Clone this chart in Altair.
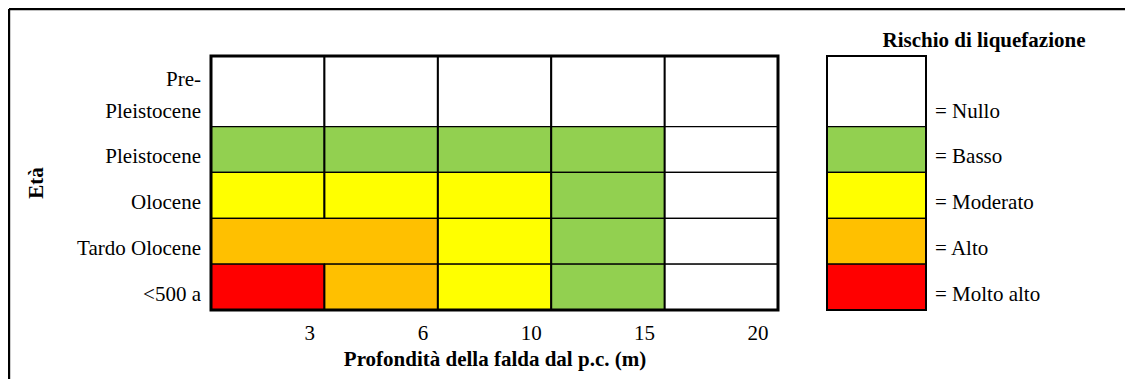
import json
import altair as alt
import pandas as pd

# ---------------- data ----------------
ages = ["Pre-\nPleistocene", "Pleistocene", "Olocene", "Tardo Olocene", "<500 a"]
depths = ["3", "6", "10", "15", "20"]
levels = ["Nullo", "Basso", "Moderato", "Alto", "Molto alto"]
level_colors = ["#FFFFFF", "#92D050", "#FFFF00", "#FFC000", "#FF0000"]
# risk per age row, as (level, number of depth columns covered)
risk_rows = [
    [("Nullo", 1), ("Nullo", 1), ("Nullo", 1), ("Nullo", 1), ("Nullo", 1)],
    [("Basso", 1), ("Basso", 1), ("Basso", 1), ("Basso", 1), ("Nullo", 1)],
    [("Moderato", 1), ("Moderato", 1), ("Moderato", 1), ("Basso", 1), ("Nullo", 1)],
    [("Alto", 2), ("Moderato", 1), ("Basso", 1), ("Nullo", 1)],
    [("Molto alto", 1), ("Alto", 1), ("Moderato", 1), ("Basso", 1), ("Nullo", 1)],
]
x_title = "Profondità della falda dal p.c. (m)"
y_title = "Età"
legend_title = "Rischio di liquefazione"

# ---------------- layout ----------------
FONT = "Liberation Serif"
FS = 21
W, H = 567, 254
PAD = {"left": 203, "top": 48, "right": 347, "bottom": 69}
LEG_GAP, LEG_W = 49, 99
EXTRA_LINE = 0.54   # extra row height (in row units) per wrapped label line
LINE_H = 32         # px between wrapped label lines

n_lines = [len(a.split("\n")) for a in ages]
heights = [1 + EXTRA_LINE * (n - 1) for n in n_lines]
total = sum(heights)
y_lo = [sum(heights[r + 1:]) for r in range(len(ages))]
y_hi = [lo + h for lo, h in zip(y_lo, heights)]

cell_recs = []
for r, row in enumerate(risk_rows):
    c = 0
    for lev, span in row:
        cell_recs.append({"x0": c, "x1": c + span, "y0": y_lo[r], "y1": y_hi[r], "level": lev})
        c += span
cells_df = pd.DataFrame(cell_recs)

label_df = pd.DataFrame([
    {"text": line, "ybot": y_lo[r], "k": k}
    for r, a in enumerate(ages)
    for k, line in enumerate(reversed(a.split("\n")))
])

legend_df = pd.DataFrame({
    "level": levels,
    "label": ["= " + l for l in levels],
    "y0": y_lo[:len(levels)],
    "y1": y_hi[:len(levels)],
})
one = pd.DataFrame({"k": [0]})

xs = alt.Scale(domain=[0, len(depths)], nice=False, zero=False)
ys = alt.Scale(domain=[0, total], nice=False, zero=False)
ls = alt.Scale(domain=[0, 1], range=[W + LEG_GAP, W + LEG_GAP + LEG_W], nice=False, zero=False)
cs = alt.Scale(domain=levels, range=level_colors)

x_axis = alt.Axis(
    values=list(range(1, len(depths) + 1)),
    labelExpr=f"{json.dumps(depths)}[datum.value - 1]",
    labelAlign="right", labelOffset=-10, labelPadding=12, labelBaseline="top",
    labelFont=FONT, labelFontSize=FS, labelColor="black", labelFlush=False,
    labelOverlap=False, ticks=False, tickSize=0, domain=False, grid=False,
    title=x_title, titleFont=FONT, titleFontSize=FS, titleFontWeight="bold",
    titleColor="black", titleBaseline="alphabetic", titleY=55, titleX=W / 2,
)

cells = alt.Chart(cells_df).mark_rect(stroke="black", strokeWidth=1.2).encode(
    x=alt.X("x0:Q", scale=xs, axis=x_axis),
    x2="x1:Q",
    y=alt.Y("y0:Q", scale=ys, axis=None),
    y2="y1:Q",
    fill=alt.Fill("level:N", scale=cs, legend=None),
)

vrules = alt.Chart(cells_df).mark_rule(color="black", strokeWidth=2).encode(
    x=alt.X("x0:Q", scale=xs, axis=None),
    y=alt.Y("y0:Q", scale=ys, axis=None),
    y2="y1:Q",
)

border = alt.Chart(one).mark_rect(filled=False, color="black", strokeWidth=3).encode(
    x=alt.XDatum(0, scale=xs, axis=None),
    x2=alt.X2Datum(len(depths)),
    y=alt.YDatum(0, scale=ys, axis=None),
    y2=alt.Y2Datum(total),
)

ylabel_layers = []
for k in sorted(label_df["k"].unique()):
    ylabel_layers.append(
        alt.Chart(label_df[label_df["k"] == k]).mark_text(
            align="right", baseline="alphabetic", dx=-10, dy=-9 - LINE_H * int(k),
            font=FONT, fontSize=FS, color="black",
        ).encode(
            x=alt.XDatum(0, scale=xs, axis=None),
            y=alt.Y("ybot:Q", scale=ys, axis=None),
            text="text:N",
        )
    )

# y axis title (rotated): dy acts across the rotated text, negative = leftwards
y_title_mark = alt.Chart(one).mark_text(
    align="center", baseline="alphabetic", angle=270, dy=-168,
    font=FONT, fontSize=FS, fontWeight="bold", color="black", text=y_title,
).encode(
    x=alt.XDatum(0, scale=xs, axis=None),
    y=alt.YDatum(total / 2, scale=ys, axis=None),
)

leg_rects = alt.Chart(legend_df).mark_rect(stroke="black", strokeWidth=1.2).encode(
    x=alt.XDatum(0, scale=ls, axis=None),
    x2=alt.X2Datum(1),
    y=alt.Y("y0:Q", scale=ys, axis=None),
    y2="y1:Q",
    fill=alt.Fill("level:N", scale=cs, legend=None),
)
leg_border = alt.Chart(one).mark_rect(filled=False, color="black", strokeWidth=2).encode(
    x=alt.XDatum(0, scale=ls, axis=None),
    x2=alt.X2Datum(1),
    y=alt.YDatum(0, scale=ys, axis=None),
    y2=alt.Y2Datum(total),
)
leg_labels = alt.Chart(legend_df).mark_text(
    align="left", baseline="alphabetic", dx=9, dy=-9,
    font=FONT, fontSize=FS, color="black",
).encode(
    x=alt.XDatum(1, scale=ls, axis=None),
    y=alt.Y("y0:Q", scale=ys, axis=None),
    text="label:N",
)
leg_title = alt.Chart(one).mark_text(
    align="center", baseline="alphabetic", dx=58, dy=-9,
    font=FONT, fontSize=FS, fontWeight="bold", color="black", text=legend_title,
).encode(
    x=alt.XDatum(1, scale=ls, axis=None),
    y=alt.YDatum(total, scale=ys, axis=None),
)

frame_top = alt.Chart(one).mark_rule(color="black", strokeWidth=2.4).encode(
    x=alt.value(-PAD["left"] + 1), x2=alt.value(W + PAD["right"]), y=alt.value(-PAD["top"] + 1),
)
frame_left = alt.Chart(one).mark_rule(color="black", strokeWidth=2.4).encode(
    x=alt.value(-PAD["left"] + 1), y=alt.value(-PAD["top"] + 1), y2=alt.value(H + PAD["bottom"]),
)

chart = alt.layer(
    cells, vrules, border, *ylabel_layers, y_title_mark,
    leg_rects, leg_border, leg_labels, leg_title,
    frame_top, frame_left,
).resolve_scale(x="independent").properties(
    width=W, height=H, padding=PAD, autosize=alt.AutoSizeParams(type="none"),
).configure_view(strokeWidth=0)

chart.save("out.html", embed_options={"renderer": "svg", "actions": False})
